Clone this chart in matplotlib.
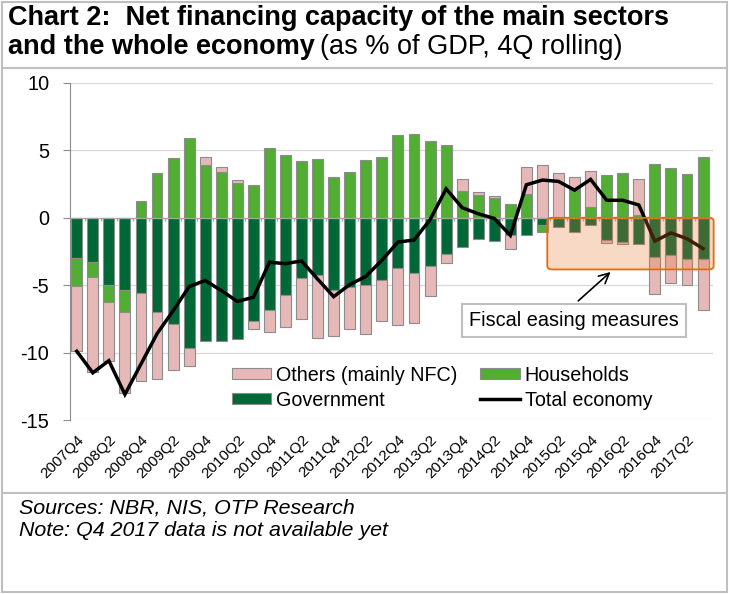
import matplotlib
matplotlib.use('Agg')
import matplotlib.pyplot as plt
from matplotlib.patches import Patch, FancyBboxPatch, Rectangle
from matplotlib.lines import Line2D
import numpy as np

# quarters 2007Q4 .. 2017Q3
quarters = ['2007Q4'] + ['%dQ%d' % (y, q) for y in range(2008, 2017) for q in range(1, 5)] + ['2017Q1', '2017Q2', '2017Q3']

government = [-3.0, -3.3, -4.95, -5.35, -5.6, -7.0, -7.9, -9.65, -9.15, -9.15,
              -9.0, -7.65, -6.85, -5.75, -4.5, -4.25, -5.35, -5.15, -4.95, -4.6,
              -3.75, -4.1, -3.6, -2.65, -2.15, -1.58, -1.72, -1.29, -1.24, -0.54,
              -0.65, -1.04, -0.5, -1.62, -1.8, -1.92, -2.88, -2.77, -3.09, -3.02]
households = [-2.05, -1.1, -1.3, -1.63, 1.26, 3.29, 4.41, 5.92, 3.94, 3.37,
              2.55, 2.4, 5.17, 4.65, 4.21, 4.33, 3.0, 3.37, 4.28, 4.48,
              6.14, 6.21, 5.69, 5.37, 2.0, 1.66, 1.49, 1.06, 1.73, -0.54,
              0.0, 2.1, 0.82, 3.17, 3.29, 0.2, 3.96, 3.66, 3.22, 4.48]
others = [-4.83, -7.06, -4.4, -6.04, -6.51, -4.93, -3.41, -1.36, 0.54, 0.37,
          0.22, -0.62, -1.61, -2.32, -2.98, -4.65, -3.42, -3.12, -3.66, -3.07,
          -4.21, -3.72, -2.2, -0.67, 0.85, 0.22, 0.15, -1.05, 2.01, 3.89,
          3.29, 0.94, 2.67, -0.25, -0.18, 2.65, -2.8, -2.03, -1.91, -3.79]
total = [-9.9, -11.5, -10.6, -13.1, -10.85, -8.6, -6.9, -5.1, -4.65, -5.4,
         -6.2, -5.9, -3.3, -3.4, -3.2, -4.55, -5.85, -4.95, -4.35, -3.15,
         -1.8, -1.65, -0.15, 2.15, 0.75, 0.3, -0.05, -1.3, 2.45, 2.8,
         2.7, 2.05, 2.85, 1.3, 1.3, 0.95, -1.73, -1.12, -1.55, -2.28]

c_gov = '#006837'
c_hh = '#52AD33'
c_oth = '#E6B9B8'
c_edge = '#8C8C8C'

plt.rcParams['font.family'] = ['Liberation Sans', 'DejaVu Sans']

fig = plt.figure(figsize=(7.31, 5.94), dpi=100)
ax = fig.add_axes([70 / 731, 1 - 420 / 594, 643 / 731, 337 / 594])

x = np.arange(len(quarters))
w = 0.68
pos_base = np.zeros(len(x))
neg_base = np.zeros(len(x))
for vals, col in [(government, c_gov), (households, c_hh), (others, c_oth)]:
    v = np.array(vals)
    bottom = np.where(v >= 0, pos_base, neg_base)
    ax.bar(x, v, w, bottom=bottom, color=col, edgecolor=c_edge, linewidth=0.8, zorder=2)
    pos_base = pos_base + np.where(v >= 0, v, 0)
    neg_base = neg_base + np.where(v < 0, v, 0)

ax.plot(x, total, color='black', linewidth=2.5, zorder=4, solid_joinstyle='miter')

# category axis at zero with ticks between bars
ax.axhline(0, color='#A6A6A6', linewidth=0.9, zorder=3)
ax.vlines(x[:-1] + 0.5, -0.25, 0, color='#A6A6A6', linewidth=0.9, zorder=3)

# fiscal easing overlay
box = FancyBboxPatch((29.3, -3.83), 39.66 - 29.3, 3.83,
                     boxstyle='round,pad=0,rounding_size=0.3', mutation_aspect=0.85,
                     facecolor='#E3742F', alpha=0.27, edgecolor='none', zorder=5, clip_on=False)
ax.add_patch(box)
box_edge = FancyBboxPatch((29.3, -3.83), 39.66 - 29.3, 3.83,
                          boxstyle='round,pad=0,rounding_size=0.3', mutation_aspect=0.85,
                          facecolor='none', edgecolor='#E46C0A', linewidth=1.3, zorder=6, clip_on=False)
ax.add_patch(box_edge)

ax.annotate('', xy=(33.37, -3.88), xytext=(31.1, -6.3),
            arrowprops=dict(arrowstyle='->', color='black', lw=1.2, mutation_scale=18), zorder=7)
ax.text(30.95, -7.63, 'Fiscal easing measures', fontsize=14.3, ha='center', va='center', zorder=8,
        bbox=dict(boxstyle='square,pad=0.36', facecolor='white', edgecolor='#BFBFBF', linewidth=1.5))

ax.set_xlim(-0.42, 39.62)
ax.set_ylim(-15, 10)
ax.set_yticks([10, 5, 0, -5, -10, -15])
ax.set_yticklabels(['10', '5', '0', '-5', '-10', '-15'], fontsize=14.3)
ax.grid(axis='y', color='#D9D9D9', linewidth=0.9, zorder=0)
ax.set_axisbelow(True)
for s in ['top', 'right', 'bottom']:
    ax.spines[s].set_visible(False)
ax.spines['left'].set_color('#8C8C8C')
ax.tick_params(axis='y', length=5, color='#8C8C8C', pad=10)

ax.set_xticks(x[::2])
ax.set_xticklabels(quarters[::2], rotation=45, ha='right', rotation_mode='anchor', fontsize=11)
ax.tick_params(axis='x', length=0, pad=9)

handles = [Patch(facecolor=c_oth, edgecolor=c_edge, linewidth=0.8),
           Patch(facecolor=c_gov, edgecolor=c_edge, linewidth=0.8),
           Patch(facecolor=c_hh, edgecolor=c_edge, linewidth=0.8),
           Line2D([0], [0], color='black', linewidth=2.5)]
labels = ['Others (mainly NFC)', 'Government', 'Households', 'Total economy']
leg = ax.legend(handles, labels, ncol=2, loc='upper left', bbox_to_anchor=(222 / 731, 1 - 356 / 594),
                bbox_transform=fig.transFigure, frameon=False, fontsize=14.2, handlelength=2.0,
                handleheight=0.5, handletextpad=0.25, columnspacing=1.15, labelspacing=0.3, borderpad=0)

# title
t1 = fig.text(8 / 731, 1 - 18 / 594, 'Chart 2:  Net financing capacity of the main sectors',
              fontsize=19.5, fontweight='bold', va='center', ha='left')
t2 = fig.text(8 / 731, 1 - 47 / 594, 'and the whole economy', fontsize=19.5, fontweight='bold',
              va='center', ha='left')
fig.canvas.draw()
bb = t2.get_window_extent(fig.canvas.get_renderer())
fig.text(bb.x1 / 731 + 0.007, 1 - 47 / 594, '(as % of GDP, 4Q rolling)', fontsize=19.5,
         va='center', ha='left')

# footer
fig.text(19 / 731, 1 - 508 / 594, 'Sources: NBR, NIS, OTP Research', fontsize=15.4, style='italic',
         va='center', ha='left')
fig.text(19 / 731, 1 - 530 / 594, 'Note: Q4 2017 data is not available yet', fontsize=15.4, style='italic',
         va='center', ha='left')

# frame
fig.add_artist(Rectangle((2 / 731, 2 / 594), 725 / 731, 590 / 594, transform=fig.transFigure,
                         fill=False, edgecolor='#BFBFBF', linewidth=1.5))
for yy in [68, 493]:
    fig.add_artist(Line2D([2 / 731, 727 / 731], [1 - yy / 594, 1 - yy / 594], transform=fig.transFigure,
                          color='#BFBFBF', linewidth=1.5))

fig.savefig('out.png', dpi=100)
